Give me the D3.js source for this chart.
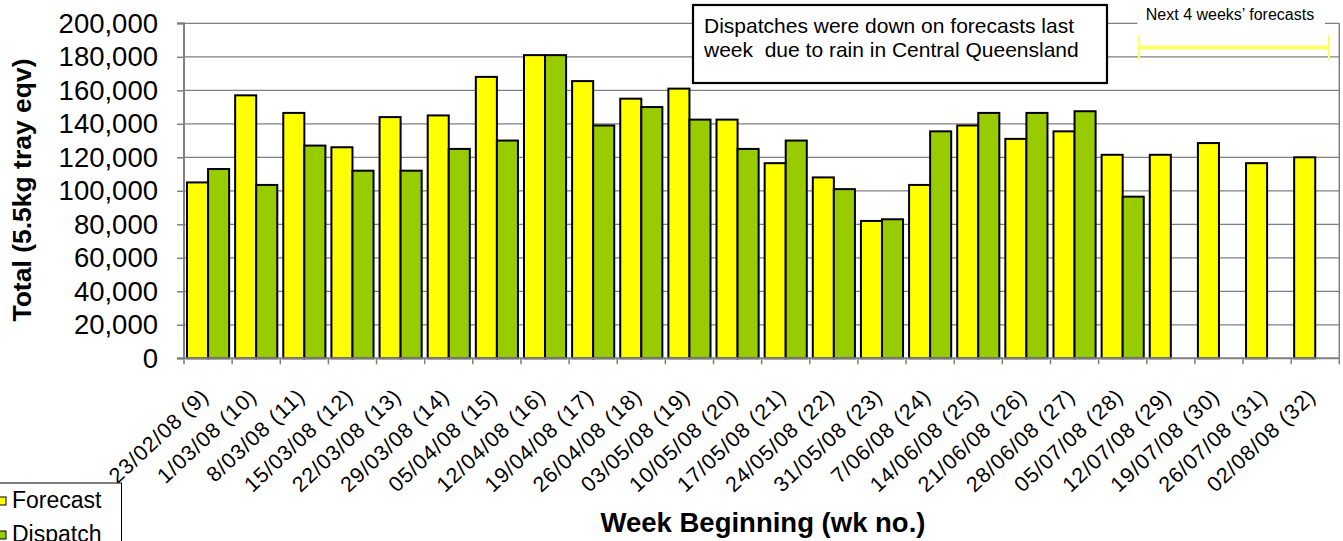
<!DOCTYPE html>
<html>
<head>
<meta charset="utf-8">
<script src="https://cdn.jsdelivr.net/npm/d3@7"></script>
<style>
  html, body { margin: 0; padding: 0; background: #fff; }
  svg { display: block; font-family: "Liberation Sans", Arial, sans-serif; }
</style>
</head>
<body>
<svg id="chart" width="1343" height="541"></svg>
<script>
const categories = ["23/02/08 (9)", "1/03/08 (10)", "8/03/08 (11)", "15/03/08 (12)", "22/03/08 (13)", "29/03/08 (14)", "05/04/08 (15)", "12/04/08 (16)", "19/04/08 (17)", "26/04/08 (18)", "03/05/08 (19)", "10/05/08 (20)", "17/05/08 (21)", "24/05/08 (22)", "31/05/08 (23)", "7/06/08 (24)", "14/06/08 (25)", "21/06/08 (26)", "28/06/08 (27)", "05/07/08 (28)", "12/07/08 (29)", "19/07/08 (30)", "26/07/08 (31)", "02/08/08 (32)"];
const forecast = [105000, 157000, 146500, 126000, 144000, 145000, 168000, 181000, 165500, 155000, 161000, 142500, 116500, 108000, 82000, 103500, 139000, 131000, 135500, 121500, 121500, 128500, 116500, 120000];
const dispatch = [113000, 103500, 127000, 112000, 112000, 125000, 130000, 181000, 139000, 150000, 142500, 125000, 130000, 101000, 83000, 135500, 146500, 146500, 147500, 96500, null, null, null, null];
const seriesNames = ["Forecast", "Dispatch"];
const seriesColors = ["#FFFF00", "#99CC00"];
const yTicks = [0, 20000, 40000, 60000, 80000, 100000, 120000, 140000, 160000, 180000, 200000];
const noteLines = ["Dispatches were down on forecasts last", "week  due to rain in Central Queensland"];
const bracketLabel = "Next 4 weeks\u2019 forecasts";

const svg = d3.select("#chart");
const L = 184, R = 1339.3, T = 23.3, B = 358.3;

const x0 = d3.scaleBand().domain(categories).range([L, R]).paddingInner(0.125).paddingOuter(0.0625);
const x1 = d3.scaleBand().domain(seriesNames).range([0, x0.bandwidth()]);
const y = d3.scaleLinear().domain([0, 200000]).range([B, T]);
const step = x0.step();

// gridlines
svg.append("g").selectAll("line").data(yTicks.filter(d => d > 0)).join("line")
  .attr("x1", L).attr("x2", R).attr("y1", d => y(d)).attr("y2", d => y(d))
  .attr("stroke", "#808080").attr("stroke-width", 1.2);
// right border
svg.append("line").attr("x1", R).attr("x2", R).attr("y1", T).attr("y2", B)
  .attr("stroke", "#808080").attr("stroke-width", 1.5);

// bars
const rows = categories.map((c, i) => ({ c, vals: [forecast[i], dispatch[i]] }));
const g = svg.append("g").selectAll("g").data(rows).join("g")
  .attr("transform", d => `translate(${x0(d.c)},0)`);
g.selectAll("rect").data(d => d.vals.map((v, k) => ({ v, k })).filter(e => e.v != null)).join("rect")
  .attr("x", e => x1(seriesNames[e.k]))
  .attr("width", x1.bandwidth())
  .attr("y", e => y(e.v))
  .attr("height", e => y(0) - y(e.v))
  .attr("fill", e => seriesColors[e.k])
  .attr("stroke", "#000").attr("stroke-width", 2);

// y axis
const yAxis = d3.axisLeft(y).tickValues(yTicks).tickSize(7).tickPadding(19)
  .tickFormat(d3.format(","));
const ya = svg.append("g").attr("transform", `translate(${L},0)`).call(yAxis);
ya.select(".domain").attr("stroke", "#808080").attr("stroke-width", 2).attr("d", `M-7,${B}H0V${T}H-7`);
ya.selectAll(".tick line").attr("stroke", "#808080").attr("stroke-width", 1.5);
ya.selectAll(".tick text").attr("font-size", 27.5).attr("fill", "#000")
  .attr("font-family", "Liberation Sans, Arial, sans-serif");

// x axis line and ticks at category boundaries
svg.append("line").attr("x1", L).attr("x2", R).attr("y1", B).attr("y2", B)
  .attr("stroke", "#808080").attr("stroke-width", 2);
const bounds = categories.map(c => x0(c) - step * x0.paddingInner() / 2).concat([R]);
svg.append("g").selectAll("line").data(bounds).join("line")
  .attr("x1", d => d).attr("x2", d => d).attr("y1", B).attr("y2", B + 6)
  .attr("stroke", "#808080").attr("stroke-width", 1.5);

// x labels
svg.append("g").selectAll("text").data(categories).join("text")
  .attr("transform", c => `translate(${x0(c) + x0.bandwidth() / 2 + 2},398) rotate(-43)`)
  .attr("text-anchor", "end")
  .attr("font-size", 21.5)
  .attr("letter-spacing", 0.9)
  .text(c => c);

// axis titles
svg.append("text").attr("transform", "translate(31,190) rotate(-90)")
  .attr("text-anchor", "middle").attr("font-weight", "bold").attr("font-size", 26.5)
  .text("Total (5.5kg tray eqv)");
svg.append("text").attr("x", 763).attr("y", 532)
  .attr("text-anchor", "middle").attr("font-weight", "bold").attr("font-size", 27.5)
  .text("Week Beginning (wk no.)");

// annotation box
svg.append("rect").attr("x", 693).attr("y", 5).attr("width", 414).attr("height", 78)
  .attr("fill", "#fff").attr("stroke", "#000").attr("stroke-width", 2.2);
svg.append("g").selectAll("text").data(noteLines).join("text")
  .attr("x", 704).attr("y", (d, i) => 33 + i * 23.5)
  .attr("font-size", 21).style("white-space", "pre").text(d => d);

// next 4 weeks label + bracket
svg.append("rect").attr("x", 1137.5).attr("y", 3).attr("width", 187.5).attr("height", 27).attr("fill", "#fff");
svg.append("text").attr("x", 1230).attr("y", 20).attr("text-anchor", "middle")
  .attr("font-size", 16).text(bracketLabel);
svg.append("line").attr("x1", 1139).attr("x2", 1329).attr("y1", 47.5).attr("y2", 47.5)
  .attr("stroke", "#FFFF66").attr("stroke-width", 4);
[1139, 1329].forEach(xx => svg.append("line").attr("x1", xx).attr("x2", xx).attr("y1", 35).attr("y2", 60)
  .attr("stroke", "#FFFF66").attr("stroke-width", 2));

// legend (partially off-canvas, as in the reference)
const lg = svg.append("g");
lg.append("rect").attr("x", -20).attr("y", 483).attr("width", 141.5).attr("height", 80)
  .attr("fill", "#fff").attr("stroke", "#000").attr("stroke-width", 1);
lg.selectAll("g").data(seriesNames).join("g").each(function (d, i) {
  const gg = d3.select(this);
  gg.append("rect").attr("x", -2).attr("y", 497 + i * 34).attr("width", 8).attr("height", 8)
    .attr("fill", seriesColors[i]).attr("stroke", "#000").attr("stroke-width", 1);
  gg.append("text").attr("x", 12).attr("y", 508 + i * 34).attr("font-size", 23).text(d);
});
</script>
</body>
</html>
